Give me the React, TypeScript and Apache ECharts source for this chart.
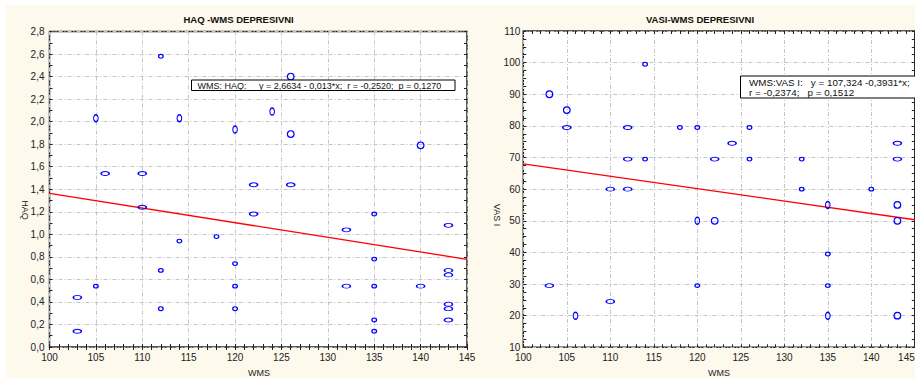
import React, { useEffect, useRef } from "react";
import * as echarts from "echarts";

// ---- data ----
const haqWms = [105, 112, 126, 114, 120, 124, 126, 140, 106, 110, 122, 126, 110, 122, 135, 143, 132, 118, 114, 135, 120, 112, 143, 143, 105, 120, 132, 135, 140, 103, 112, 120, 143, 143, 135, 143, 103, 135];
const haqValues = [2.03, 2.58, 2.4, 2.03, 1.93, 2.09, 1.89, 1.79, 1.54, 1.54, 1.44, 1.44, 1.24, 1.18, 1.18, 1.08, 1.04, 0.98, 0.94, 0.78, 0.74, 0.68, 0.68, 0.64, 0.54, 0.54, 0.54, 0.54, 0.54, 0.44, 0.34, 0.34, 0.38, 0.34, 0.24, 0.24, 0.14, 0.14];
const haqMarks = ["t", "s", "l", "t", "t", "t", "l", "l", "w", "w", "w", "w", "w", "w", "s", "w", "w", "s", "s", "s", "s", "s", "w", "w", "s", "s", "w", "s", "w", "w", "s", "s", "w", "w", "s", "w", "w", "s"];

const vasWms = [103, 114, 105, 105, 112, 118, 120, 126, 124, 143, 112, 114, 122, 126, 132, 143, 110, 112, 132, 140, 135, 143, 120, 122, 143, 135, 103, 120, 135, 110, 106, 135, 143];
const vasValues = [90, 99.5, 85, 79.5, 79.5, 79.5, 79.5, 79.5, 74.5, 74.5, 69.5, 69.5, 69.5, 69.5, 69.5, 69.5, 60, 60, 60, 60, 55, 55, 50, 50, 50, 39.5, 29.5, 29.5, 29.5, 24.5, 20, 20, 20];
const vasMarks = ["l", "s", "l", "w", "w", "s", "s", "s", "w", "w", "w", "s", "w", "s", "s", "w", "w", "w", "s", "s", "t", "l", "t", "l", "l", "s", "w", "s", "s", "w", "t", "t", "l"];

const haqFitX = [100, 145];
const haqFitY = [1.3634, 0.7784];
const vasFitX = [100, 145];
const vasFitY = [68.01, 50.33];

const wmsRange = [100, 145];
const haqRange = [0, 2.8];
const vasRange = [10, 110];

const haqTitle = "HAQ -WMS DEPRESIVNI";
const vasTitle = "VASI-WMS DEPRESIVNI";
const xName = "WMS";
const haqName = "HAQ";
const vasName = "VAS I";
const S = "\u00a0";
const haqNote = `WMS: HAQ:${S.repeat(5)}y = 2,6634 - 0,013*x;${S}${S}r = -0,2520;${S}${S}p = 0,1270`;
const vasNote1 = `WMS:VAS I:${S.repeat(3)}y = 107,324 -0,3931*x;`;
const vasNote2 = `r = -0,2374;${S}${S}${S}p = 0,1512`;

const FONT = "'Liberation Sans', Arial, sans-serif";
const ELLIPSE = "path://M0,5A5,5,0,1,1,10,5A5,5,0,1,1,0,5Z";
const markSize: Record<string, number[]> = {
  s: [4.6, 3.8],
  w: [8, 4],
  t: [4.6, 7],
  l: [6.6, 6.6],
};

function xAxes(gridIndex: number, alignMax?: string) {
  const base = {
    type: "value",
    gridIndex,
    min: wmsRange[0],
    max: wmsRange[1],
    interval: 5,
    axisLine: { show: false },
    axisTick: { show: true, inside: true, length: 3, lineStyle: { color: "#222", width: 1 } },
    minorTick: { show: true, splitNumber: 5, length: 3, lineStyle: { color: "#222", width: 1 } },
  };
  return [
    {
      ...base,
      position: "bottom",
      axisLabel: { margin: 5, color: "#222", fontSize: 10, fontFamily: FONT, alignMaxLabel: alignMax },
      splitLine: { show: true, lineStyle: { color: "#c4c4c4", width: 1, type: [4, 2, 1, 2] } },
    },
    {
      ...base,
      position: "top",
      axisLabel: { show: false },
      splitLine: { show: false },
    },
  ];
}

function yAxes(gridIndex: number, range: number[], interval: number, minorSplit: number, fmt: (v: number) => string, margin: number) {
  const base = {
    type: "value",
    gridIndex,
    min: range[0],
    max: range[1],
    interval,
    axisLine: { show: false },
    axisTick: { show: true, inside: true, length: 3, lineStyle: { color: "#222", width: 1 } },
    minorTick: { show: true, splitNumber: minorSplit, length: 3, lineStyle: { color: "#222", width: 1 } },
  };
  return [
    {
      ...base,
      position: "left",
      axisLabel: { margin, color: "#222", fontSize: 10, fontFamily: FONT, formatter: fmt },
      splitLine: { show: true, lineStyle: { color: "#c4c4c4", width: 1, type: [4, 2, 1, 2] } },
    },
    {
      ...base,
      position: "right",
      axisLabel: { show: false },
      splitLine: { show: false },
    },
  ];
}

function scatter(xIdx: number, yIdx: number, xs: number[], ys: number[], marks: string[]) {
  return {
    type: "scatter",
    xAxisIndex: xIdx,
    yAxisIndex: yIdx,
    symbol: ELLIPSE,
    symbolSize: (_v: any, p: any) => markSize[marks[p.dataIndex]],
    itemStyle: { color: "rgba(0,0,0,0)", borderColor: "#0000ff", borderWidth: 1.2, opacity: 1 },
    data: xs.map((x, i) => [x, ys[i]]),
    z: 4,
  };
}

function fitLine(xIdx: number, yIdx: number, xs: number[], ys: number[]) {
  return {
    type: "line",
    xAxisIndex: xIdx,
    yAxisIndex: yIdx,
    showSymbol: false,
    symbol: "none",
    lineStyle: { color: "#ff0000", width: 1.3 },
    data: xs.map((x, i) => [x, ys[i]]),
    z: 3,
  };
}

function txt(text: string, x: number, y: number, size: number, opts: any = {}) {
  return {
    type: "text",
    x,
    y,
    z: 101,
    rotation: opts.rotation || 0,
    style: {
      text,
      fill: opts.fill || "#222",
      fontSize: size,
      fontFamily: FONT,
      fontWeight: opts.bold ? "bold" : "normal",
      align: opts.align || "center",
      verticalAlign: "middle",
    },
  };
}

export default function App() {
  const ref = useRef<HTMLDivElement>(null);

  useEffect(() => {
    if (!ref.current) return;
    const chart = echarts.init(ref.current, null, { renderer: "svg" });
    const gridCommon = {
      show: true,
      backgroundColor: "#ffffff",
      borderColor: "#222",
      borderWidth: 1.5,
      containLabel: false,
      outerBoundsMode: "none",
    };
    chart.setOption({
      animation: false,
      grid: [
        { ...gridCommon, left: 49.5, top: 31.5, width: 417.5, height: 315.5 },
        { ...gridCommon, left: 523.3, top: 31, width: 391.5, height: 316.3 },
      ],
      xAxis: [...xAxes(0), ...xAxes(1, "right")],
      yAxis: [
        ...yAxes(0, haqRange, 0.2, 2, (v: number) => v.toFixed(1).replace(".", ","), 5),
        ...yAxes(1, vasRange, 10, 4, (v: number) => String(Math.round(v)), 3),
      ],
      series: [
        fitLine(0, 0, haqFitX, haqFitY),
        scatter(0, 0, haqWms, haqValues, haqMarks),
        fitLine(2, 2, vasFitX, vasFitY),
        scatter(2, 2, vasWms, vasValues, vasMarks),
      ],
      graphic: [
        txt(haqTitle, 238.6, 19, 9.5, { bold: true, fill: "#111" }),
        txt(vasTitle, 700, 19, 9.5, { bold: true, fill: "#111" }),
        txt(xName, 259, 372.5, 9),
        txt(xName, 719, 372.5, 9),
        txt(haqName, 25, 210, 9, { rotation: -Math.PI / 2 }),
        txt(vasName, 497.3, 215, 9, { rotation: -Math.PI / 2 }),
        {
          type: "rect",
          z: 100,
          shape: { x: 191.5, y: 80, width: 263.5, height: 10.5 },
          style: { fill: "#ffffff", stroke: "#000000", lineWidth: 1 },
        },
        txt(haqNote, 197.5, 85.5, 9, { align: "left", fill: "#111" }),
        {
          type: "rect",
          z: 100,
          shape: { x: 740.5, y: 76, width: 180, height: 22 },
          style: { fill: "#ffffff", stroke: "#000000", lineWidth: 1 },
        },
        txt(vasNote1, 749, 82.5, 9.8, { align: "left", fill: "#111" }),
        txt(vasNote2, 749, 92.5, 9.8, { align: "left", fill: "#111" }),
      ],
    });
    return () => chart.dispose();
  }, []);

  return (
    <div style={{ position: "fixed", left: 0, top: 0, width: 915, height: 378, background: "#ffffff", overflow: "hidden" }}>
      <div style={{ position: "absolute", left: 6, top: 5, right: 0, bottom: 0, background: "#fdf9ec" }} />
      <div ref={ref} style={{ position: "absolute", left: 0, top: 0, width: 915, height: 378 }} />
    </div>
  );
}
